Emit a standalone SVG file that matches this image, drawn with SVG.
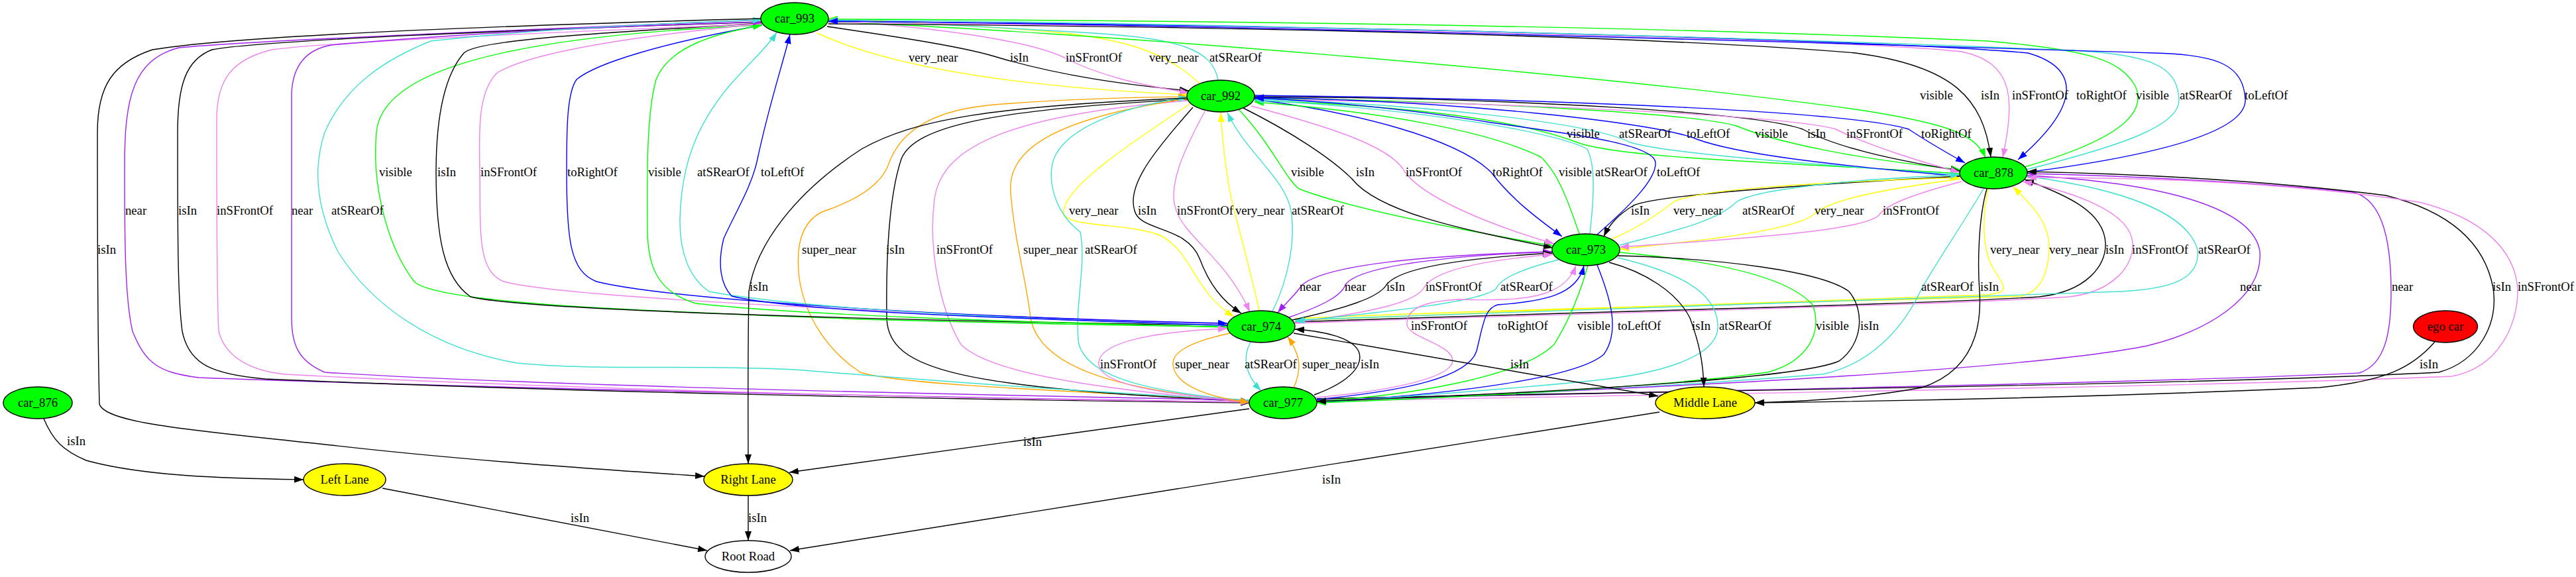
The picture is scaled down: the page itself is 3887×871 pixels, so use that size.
<svg xmlns="http://www.w3.org/2000/svg" width="3887" height="871" viewBox="0 0 3887 871">
<style>
.e{fill:none;stroke-width:1.4}
.k{stroke:#000;marker-end:url(#mk)}
.p{stroke:#a020f0;marker-end:url(#mp)}
.v{stroke:#ee82ee;marker-end:url(#mv)}
.t{stroke:#40e0d0;marker-end:url(#mt)}
.g{stroke:#00ff00;marker-end:url(#mg)}
.b{stroke:#0000ff;marker-end:url(#mb)}
.y{stroke:#ffff00;marker-end:url(#my)}
.o{stroke:#ffa500;marker-end:url(#mo)}
text{font-family:"Liberation Serif","Times New Roman",serif;font-size:18.67px;fill:#000}
.n ellipse{stroke:#000;stroke-width:1.4}
.n text{text-anchor:middle}
.cg{fill:#00ff00}.cy{fill:#ffff00}.cr{fill:#ff0000}.cw{fill:#ffffff}
</style>
<defs>
<marker id="mk" viewBox="0 0 14 10" refX="14" refY="5" markerWidth="14" markerHeight="10" markerUnits="userSpaceOnUse" orient="auto"><path d="M0,0 L14,5 L0,10 z" fill="#000"/></marker>
<marker id="mp" viewBox="0 0 14 10" refX="14" refY="5" markerWidth="14" markerHeight="10" markerUnits="userSpaceOnUse" orient="auto"><path d="M0,0 L14,5 L0,10 z" fill="#a020f0"/></marker>
<marker id="mv" viewBox="0 0 14 10" refX="14" refY="5" markerWidth="14" markerHeight="10" markerUnits="userSpaceOnUse" orient="auto"><path d="M0,0 L14,5 L0,10 z" fill="#ee82ee"/></marker>
<marker id="mt" viewBox="0 0 14 10" refX="14" refY="5" markerWidth="14" markerHeight="10" markerUnits="userSpaceOnUse" orient="auto"><path d="M0,0 L14,5 L0,10 z" fill="#40e0d0"/></marker>
<marker id="mg" viewBox="0 0 14 10" refX="14" refY="5" markerWidth="14" markerHeight="10" markerUnits="userSpaceOnUse" orient="auto"><path d="M0,0 L14,5 L0,10 z" fill="#00ff00"/></marker>
<marker id="mb" viewBox="0 0 14 10" refX="14" refY="5" markerWidth="14" markerHeight="10" markerUnits="userSpaceOnUse" orient="auto"><path d="M0,0 L14,5 L0,10 z" fill="#0000ff"/></marker>
<marker id="my" viewBox="0 0 14 10" refX="14" refY="5" markerWidth="14" markerHeight="10" markerUnits="userSpaceOnUse" orient="auto"><path d="M0,0 L14,5 L0,10 z" fill="#ffff00"/></marker>
<marker id="mo" viewBox="0 0 14 10" refX="14" refY="5" markerWidth="14" markerHeight="10" markerUnits="userSpaceOnUse" orient="auto"><path d="M0,0 L14,5 L0,10 z" fill="#ffa500"/></marker>
</defs>
<rect width="3887" height="871" fill="#fff"/>
<g id="connectors">
<path class="e y" d="M1233,50 C1330,95 1500,130 1794,143"/>
<path class="e k" d="M1248,40 C1350,55 1450,70 1500,85 C1600,115 1700,128 1794,137"/>
<path class="e v" d="M1250,31 C1400,40 1550,60 1606,87 C1660,115 1720,128 1794,140"/>
<path class="e y" d="M1810,126 C1760,80 1700,55 1550,45 C1400,35 1300,30 1250,28"/>
<path class="e t" d="M1838,121 C1830,75 1780,58 1650,50 C1450,38 1330,32 1250,31"/>
<path class="e g" d="M1250,33 C1600,45 2400,110 2800,165 C2930,185 2980,200 2996,238"/>
<path class="e k" d="M1250,36 C1900,40 2500,55 2800,80 C2950,100 2992,150 3004,237"/>
<path class="e v" d="M1250,34 C2000,40 2800,60 2960,78 C3040,95 3040,150 3022,238"/>
<path class="e b" d="M1252,32 C2200,40 2900,65 3060,80 C3130,100 3150,150 3045,241"/>
<path class="e g" d="M3055,252 C3200,210 3240,170 3222,130 C3200,90 3150,75 3000,62 C2400,35 1600,30 1250,29"/>
<path class="e t" d="M3058,256 C3200,220 3290,190 3288,150 C3285,100 3250,80 3100,75 C2500,50 1600,32 1250,30"/>
<path class="e b" d="M3059,260 C3250,235 3390,200 3388,150 C3385,100 3350,82 3250,80 C2600,60 1700,35 1250,32"/>
<path class="e g" d="M1893,148 C2200,152 2550,170 2620,190 C2680,215 2800,240 2958,256"/>
<path class="e k" d="M1893,146 C2300,148 2650,170 2720,195 C2770,222 2850,240 2957,258"/>
<path class="e v" d="M1893,150 C2300,155 2700,175 2770,195 C2820,220 2900,245 2957,260"/>
<path class="e b" d="M1893,144 C2400,150 2800,170 2880,195 C2910,215 2940,232 2965,246"/>
<path class="e g" d="M2957,262 C2700,245 2450,240 2380,215 C2300,185 2150,160 1893,152"/>
<path class="e t" d="M2957,264 C2700,245 2520,232 2460,215 C2400,185 2150,157 1893,150"/>
<path class="e b" d="M2957,266 C2750,248 2620,232 2560,210 C2500,185 2200,152 1893,147"/>
<path class="e g" d="M1870,166 C1920,220 1940,270 1960,285 C2050,320 2250,355 2343,371"/>
<path class="e k" d="M1876,163 C1950,200 2010,240 2040,270 C2080,320 2200,345 2343,374"/>
<path class="e v" d="M1888,160 C2000,190 2100,220 2120,260 C2150,300 2250,340 2345,368"/>
<path class="e b" d="M1893,150 C2050,170 2200,210 2250,260 C2280,300 2320,330 2357,357"/>
<path class="e g" d="M2383,353 C2365,300 2350,260 2325,237 C2250,200 2100,170 1893,154"/>
<path class="e t" d="M2399,353 C2405,300 2408,250 2395,225 C2350,200 2150,165 1893,151"/>
<path class="e b" d="M2410,354 C2460,310 2500,270 2498,245 C2495,215 2350,200 2250,185 C2100,160 1950,150 1893,148"/>
<path class="e y" d="M1795,157 C1700,220 1610,280 1605,318 C1600,345 1700,335 1750,355 C1800,380 1800,440 1862,478"/>
<path class="e k" d="M1800,162 C1740,230 1700,280 1712,318 C1720,350 1790,340 1810,390 C1825,430 1845,455 1873,473"/>
<path class="e v" d="M1818,168 C1790,220 1760,280 1775,318 C1790,360 1850,390 1886,471"/>
<path class="e y" d="M1900,469 C1890,420 1865,330 1858,300 C1850,260 1845,220 1842,170"/>
<path class="e t" d="M1920,470 C1945,420 1955,360 1948,318 C1940,270 1880,230 1852,170"/>
<path class="e o" d="M1886,605 C1600,590 1350,580 1298,562 C1250,530 1215,480 1206,420 C1200,370 1210,335 1240,320 C1300,300 1330,275 1340,250 C1360,190 1420,165 1500,158 C1600,150 1700,147 1792,146"/>
<path class="e k" d="M1792,150 C1500,165 1380,190 1360,240 C1340,300 1337,400 1338,480 C1340,560 1450,585 1886,606"/>
<path class="e v" d="M1792,152 C1500,175 1420,230 1410,300 C1400,380 1420,470 1450,520 C1500,570 1700,590 1886,608"/>
<path class="e o" d="M1792,149 C1580,180 1520,230 1525,290 C1530,360 1550,430 1555,480 C1570,560 1700,590 1886,607"/>
<path class="e t" d="M1886,605 C1700,590 1640,560 1628,520 C1620,470 1640,400 1630,350 C1590,320 1580,270 1590,240 C1610,190 1700,160 1792,147"/>
<path class="e g" d="M1150,38 C750,55 575,110 568,200 C560,290 590,380 625,425 C660,460 1000,470 1300,482 C1600,490 1750,492 1852,493"/>
<path class="e k" d="M1150,35 C900,50 720,60 700,80 C665,120 658,200 658,260 C658,360 670,420 710,448 C800,470 1400,485 1852,491"/>
<path class="e v" d="M1150,36 C950,55 800,80 750,110 C720,140 723,200 724,260 C725,350 720,410 760,425 C850,450 1400,475 1852,489"/>
<path class="e b" d="M1150,38 C1000,65 900,95 870,120 C855,140 855,200 855,260 C855,360 860,410 900,425 C1000,450 1400,478 1852,488"/>
<path class="e g" d="M1852,494 C1500,485 1200,475 1050,458 C990,440 978,400 977,350 C976,260 976,170 990,120 C1010,70 1080,50 1150,38"/>
<path class="e t" d="M1852,492 C1500,480 1200,465 1070,440 C1040,420 1025,380 1026,330 C1028,250 1050,190 1100,130 C1130,95 1155,75 1172,49"/>
<path class="e b" d="M1852,491 C1500,480 1200,470 1104,447 C1088,430 1082,400 1092,360 C1110,320 1135,280 1143,240 C1160,160 1180,100 1192,52"/>
<path class="e p" d="M1150,30 C800,45 400,60 270,72 C200,90 188,150 188,250 C188,350 188,450 200,500 C220,550 240,562 300,570 C700,585 1400,600 1886,607"/>
<path class="e k" d="M1150,33 C800,45 400,60 320,75 C280,90 268,130 268,200 C268,350 268,450 275,500 C285,550 320,565 400,572 C800,590 1400,603 1886,608"/>
<path class="e v" d="M1150,36 C800,50 480,65 410,75 C350,90 327,120 327,180 C327,300 327,450 330,500 C340,540 380,560 430,565 C800,585 1400,602 1886,607"/>
<path class="e p" d="M1886,604 C1400,595 800,582 490,562 C450,545 440,520 440,480 C440,350 440,200 440,140 C442,100 460,75 500,68 C700,50 900,40 1150,33"/>
<path class="e t" d="M1886,604 C1600,590 1350,570 1200,558 C1050,550 900,560 780,548 C650,525 560,460 510,380 C480,320 470,260 490,200 C520,130 580,90 650,62 C800,45 1000,35 1150,30"/>
<path class="e k" d="M2957,266 C2700,280 2500,295 2465,310 C2440,325 2428,340 2420,357"/>
<path class="e y" d="M2432,361 C2480,340 2505,320 2525,305 C2560,285 2750,275 2957,268"/>
<path class="e t" d="M2444,370 C2520,350 2590,335 2620,305 C2650,285 2800,270 2957,264"/>
<path class="e y" d="M2958,270 C2850,285 2760,300 2735,325 C2700,350 2550,365 2444,376"/>
<path class="e v" d="M2960,274 C2880,295 2845,310 2835,325 C2810,350 2600,362 2444,373"/>
<path class="e y" d="M3000,285 C2992,320 2990,370 3005,400 C3020,430 3040,440 3000,445 C2700,455 2300,468 1954,484"/>
<path class="e y" d="M1954,481 C2300,465 2800,455 3050,447 C3080,440 3092,410 3092,370 C3090,330 3060,305 3038,282"/>
<path class="e k" d="M1954,486 C2400,470 2900,460 3077,448 C3150,440 3178,400 3177,367 C3175,320 3120,295 3055,271"/>
<path class="e v" d="M1954,488 C2400,472 2900,462 3123,448 C3190,440 3220,400 3218,367 C3215,320 3130,290 3052,274"/>
<path class="e t" d="M3058,266 C3200,285 3300,320 3316,377 C3320,420 3280,436 3200,440 C2800,455 2300,468 1955,483"/>
<path class="e t" d="M2993,285 C2960,340 2920,400 2900,435 C2870,500 2820,550 2750,565 C2500,585 2200,600 1987,607"/>
<path class="e p" d="M3059,265 C3250,275 3400,310 3410,380 C3415,450 3330,500 3240,522 C3100,550 2700,580 1987,605"/>
<path class="e p" d="M1987,604 C2500,590 3200,580 3560,563 C3600,550 3608,500 3608,440 C3608,350 3590,300 3550,290 C3400,275 3200,265 3059,262"/>
<path class="e k" d="M1987,602 C2500,590 3300,582 3680,562 C3740,545 3770,490 3762,435 C3750,370 3700,320 3600,295 C3400,270 3200,262 3059,259"/>
<path class="e v" d="M1987,606 C2500,595 3300,585 3700,568 C3770,555 3800,490 3799,436 C3795,380 3750,330 3650,305 C3450,275 3250,268 3059,268"/>
<path class="e p" d="M2342,380 C2150,385 2000,400 1965,430 C1950,450 1938,460 1928,472"/>
<path class="e p" d="M1945,479 C2000,460 2025,445 2030,430 C2050,400 2200,385 2342,380"/>
<path class="e k" d="M1950,483 C2030,465 2080,450 2092,430 C2110,405 2200,390 2342,382"/>
<path class="e v" d="M1952,487 C2080,470 2140,455 2150,432 C2170,405 2250,392 2343,384"/>
<path class="e t" d="M2352,392 C2300,405 2265,420 2258,435 C2240,455 2100,470 1954,485"/>
<path class="e v" d="M1986,600 C2100,590 2190,570 2192,545 C2193,520 2125,510 2123,490 C2122,465 2150,455 2200,452 C2300,455 2360,450 2378,401"/>
<path class="e b" d="M1987,603 C2120,590 2215,570 2228,530 C2238,490 2240,465 2260,460 C2330,455 2380,445 2390,401"/>
<path class="e g" d="M2396,401 C2385,440 2370,480 2345,520 C2300,565 2150,595 1987,606"/>
<path class="e b" d="M2410,400 C2430,450 2445,500 2420,535 C2380,570 2200,595 1987,607"/>
<path class="e t" d="M2441,389 C2530,410 2590,440 2592,490 C2596,540 2500,565 2400,575 C2250,590 2100,600 1987,608"/>
<path class="e g" d="M2444,381 C2600,395 2700,420 2735,460 C2750,500 2730,545 2667,562 C2500,585 2200,600 1987,608"/>
<path class="e k" d="M2440,386 C2600,390 2750,410 2790,440 C2815,470 2810,520 2775,545 C2720,570 2400,590 1987,606"/>
<path class="e v" d="M1886,606 C1750,595 1660,580 1658,550 C1655,515 1750,500 1852,496"/>
<path class="e o" d="M1856,503 C1800,515 1768,530 1770,550 C1772,580 1820,600 1885,607"/>
<path class="e t" d="M1887,516 C1877,535 1874,560 1903,590"/>
<path class="e o" d="M1952,586 C1963,560 1965,540 1943,508"/>
<path class="e k" d="M1983,596 C2040,575 2058,550 2050,530 C2040,510 2000,500 1954,497"/>
<path class="e k" d="M1150,28 C700,40 350,55 230,75 C170,95 147,130 147,200 C147,350 147,500 150,610 C160,640 300,650 500,672 C700,695 900,708 1063,719"/>
<path class="e k" d="M1792,148 C1500,160 1380,180 1300,225 C1200,290 1140,370 1130,440 C1128,550 1129,650 1129,700"/>
<path class="e k" d="M1885,617 L1191,713"/>
<path class="e k" d="M1952,503 L2502,598"/>
<path class="e k" d="M2428,396 C2480,410 2530,440 2550,480 C2565,520 2570,550 2571,584"/>
<path class="e k" d="M2998,285 C2985,330 2984,400 2987,440 C2992,520 2960,565 2900,585 C2820,600 2720,606 2648,608"/>
<path class="e k" d="M3674,516 C3640,555 3600,575 3500,585 C3200,598 2900,605 2648,608"/>
<path class="e k" d="M66,632 C80,665 95,680 130,695 C220,720 350,722 458,724"/>
<path class="e k" d="M577,737 L1067,831"/>
<path class="e k" d="M1129,748 L1129,816"/>
<path class="e k" d="M2504,622 L1192,831"/>
<g id="edge-labels">
<text x="1371" y="93">very_near</text><text x="1524" y="93">isIn</text><text x="1608" y="93">inSFrontOf</text><text x="1734" y="93">very_near</text><text x="1825" y="93">atSRearOf</text>
<text x="2897" y="150">visible</text><text x="2989" y="150">isIn</text><text x="3036" y="150">inSFrontOf</text><text x="3133" y="150">toRightOf</text><text x="3223" y="150">visible</text><text x="3289" y="150">atSRearOf</text><text x="3387" y="150">toLeftOf</text>
<text x="2364" y="208">visible</text><text x="2443" y="208">atSRearOf</text><text x="2545" y="208">toLeftOf</text><text x="2648" y="208">visible</text><text x="2727" y="208">isIn</text><text x="2786" y="208">inSFrontOf</text><text x="2899" y="208">toRightOf</text>
<text x="572" y="266">visible</text><text x="660" y="266">isIn</text><text x="725" y="266">inSFrontOf</text><text x="856" y="266">toRightOf</text><text x="978" y="266">visible</text><text x="1052" y="266">atSRearOf</text><text x="1148" y="266">toLeftOf</text>
<text x="1948" y="266">visible</text><text x="2046" y="266">isIn</text><text x="2121" y="266">inSFrontOf</text><text x="2252" y="266">toRightOf</text><text x="2352" y="266">visible</text><text x="2407" y="266">atSRearOf</text><text x="2500" y="266">toLeftOf</text>
<text x="189" y="324">near</text><text x="269" y="324">isIn</text><text x="327" y="324">inSFrontOf</text><text x="440" y="324">near</text><text x="500" y="324">atSRearOf</text>
<text x="1613" y="324">very_near</text><text x="1717" y="324">isIn</text><text x="1776" y="324">inSFrontOf</text><text x="1864" y="324">very_near</text><text x="1949" y="324">atSRearOf</text>
<text x="2461" y="324">isIn</text><text x="2525" y="324">very_near</text><text x="2629" y="324">atSRearOf</text><text x="2738" y="324">very_near</text><text x="2841" y="324">inSFrontOf</text>
<text x="147" y="383">isIn</text><text x="1210" y="383">super_near</text><text x="1337" y="383">isIn</text><text x="1413" y="383">inSFrontOf</text><text x="1544" y="383">super_near</text><text x="1637" y="383">atSRearOf</text>
<text x="3003" y="383">very_near</text><text x="3092" y="383">very_near</text><text x="3177" y="383">isIn</text><text x="3217" y="383">inSFrontOf</text><text x="3317" y="383">atSRearOf</text>
<text x="1131" y="439">isIn</text><text x="1961" y="439">near</text><text x="2029" y="439">near</text><text x="2092" y="439">isIn</text><text x="2151" y="439">inSFrontOf</text><text x="2264" y="439">atSRearOf</text>
<text x="2899" y="439">atSRearOf</text><text x="2988" y="439">isIn</text><text x="3380" y="439">near</text><text x="3609" y="439">near</text><text x="3761" y="439">isIn</text><text x="3799" y="439">inSFrontOf</text>
<text x="2129" y="498">inSFrontOf</text><text x="2260" y="498">toRightOf</text><text x="2380" y="498">visible</text><text x="2441" y="498">toLeftOf</text><text x="2553" y="498">isIn</text><text x="2594" y="498">atSRearOf</text><text x="2740" y="498">visible</text><text x="2807" y="498">isIn</text>
<text x="1660" y="556">inSFrontOf</text><text x="1773" y="556">super_near</text><text x="1878" y="556">atSRearOf</text><text x="1965" y="556">super_near</text><text x="2053" y="556">isIn</text><text x="2279" y="556">isIn</text><text x="3651" y="556">isIn</text>
<text x="101" y="672">isIn</text><text x="1544" y="673">isIn</text>
<text x="1995" y="730">isIn</text>
<text x="861" y="788">isIn</text><text x="1129" y="788">isIn</text>
</g>
</g>
<g id="car_993" class="n"><ellipse cx="1199" cy="28" rx="51" ry="24" class="cg"/><text x="1199" y="34">car_993</text></g>
<g id="car_992" class="n"><ellipse cx="1842" cy="145" rx="51" ry="24" class="cg"/><text x="1842" y="151">car_992</text></g>
<g id="car_878" class="n"><ellipse cx="3008" cy="261" rx="51" ry="24" class="cg"/><text x="3008" y="267">car_878</text></g>
<g id="car_973" class="n"><ellipse cx="2393" cy="377" rx="51" ry="24" class="cg"/><text x="2393" y="383">car_973</text></g>
<g id="car_974" class="n"><ellipse cx="1903" cy="493" rx="51" ry="24" class="cg"/><text x="1903" y="499">car_974</text></g>
<g id="car_977" class="n"><ellipse cx="1936" cy="608" rx="51" ry="24" class="cg"/><text x="1936" y="614">car_977</text></g>
<g id="car_876" class="n"><ellipse cx="57" cy="608" rx="52" ry="24" class="cg"/><text x="57" y="614">car_876</text></g>
<g id="ego_car" class="n"><ellipse cx="3690" cy="493" rx="48.5" ry="24" class="cr"/><text x="3690" y="499">ego car</text></g>
<g id="middle_lane" class="n"><ellipse cx="2573" cy="608" rx="75" ry="24" class="cy"/><text x="2573" y="614">Middle Lane</text></g>
<g id="left_lane" class="n"><ellipse cx="520" cy="724" rx="62" ry="24" class="cy"/><text x="520" y="730">Left Lane</text></g>
<g id="right_lane" class="n"><ellipse cx="1129" cy="724" rx="67" ry="24" class="cy"/><text x="1129" y="730">Right Lane</text></g>
<g id="root_road" class="n"><ellipse cx="1129" cy="840" rx="65" ry="24" class="cw"/><text x="1129" y="846">Root Road</text></g>
</svg>
